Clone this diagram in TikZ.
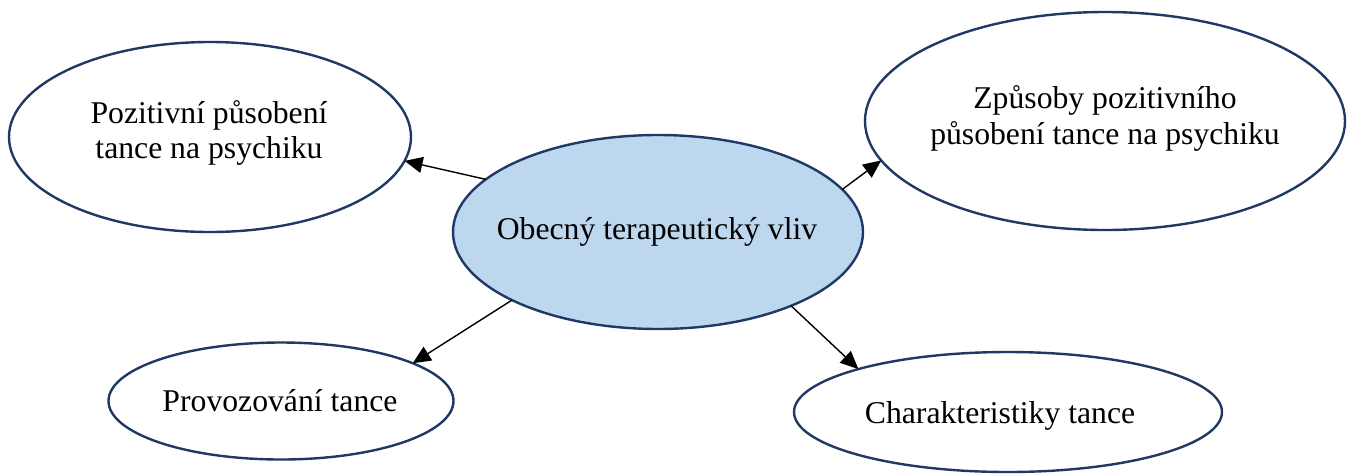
\documentclass[tikz,border=0pt]{standalone}
\usepackage{fontspec}
\setmainfont{Liberation Serif}
\usetikzlibrary{shapes.geometric,arrows.meta}
\definecolor{bubbleline}{HTML}{1F3864}
\definecolor{hubfill}{HTML}{BDD7EE}
\tikzset{
  bubble/.style={ellipse, draw=bubbleline, line width=1.2pt, inner sep=0pt, outer sep=0pt, fill=white},
  hub/.style={bubble, fill=hubfill},
  caption/.style={font=\fontsize{15.85pt}{17.75pt}\selectfont, align=center, inner sep=0pt, text=black},
  link/.style={line width=0.7pt, -{Triangle[length=9pt,width=8pt]}},
}
\begin{document}
\begin{tikzpicture}[x=0.5pt,y=-0.5pt]
\useasboundingbox (0,0) rectangle (1350,473);

% ellipses
\node[hub,    minimum width=205pt, minimum height=97pt]   (hub) at (658,232) {};
\node[bubble, minimum width=201pt, minimum height=95pt]   (tl)  at (210,137) {};
\node[bubble, minimum width=240pt, minimum height=109pt]  (tr)  at (1105,121) {};
\node[bubble, minimum width=172.5pt, minimum height=58.5pt] (bl) at (281,401) {};
\node[bubble, minimum width=214pt, minimum height=60pt]   (br)  at (1008,412) {};

% captions
\node[caption] (hubT) at (657,239) [anchor=base] {Obecný terapeutický vliv};
\node[caption] (tlT)  at (209,133) {Pozitivní působení\\tance na psychiku};
\node[caption] (trT)  at (1105,118.5) {Způsoby pozitivního\\působení tance na psychiku};
\node[caption] (blT)  at (280,411) [anchor=base] {Provozování tance};
\node[caption] (brT)  at (1000,423) [anchor=base] {Charakteristiky tance};

% connectors
\draw[link] (hub.163.4) -- (tl.-7.6);
\draw[link] (hub.13.7)  -- (tr.190.7);
\draw[link] (hub.205.5) -- (bl.16.3);
\draw[link] (hub.-29.7) -- (br.164.3);
\end{tikzpicture}
\end{document}
